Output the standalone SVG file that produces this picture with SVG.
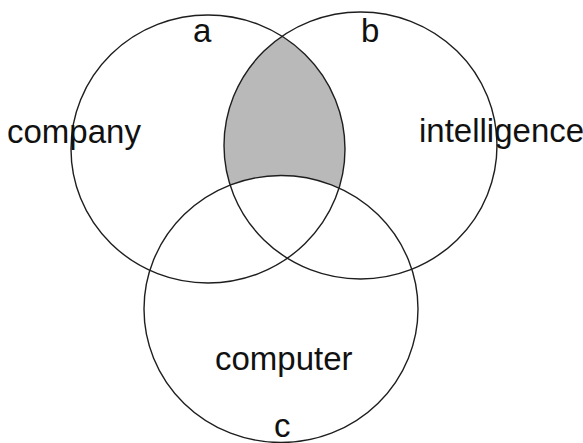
<svg xmlns="http://www.w3.org/2000/svg" width="583" height="443" viewBox="0 0 583 443">
  <style>
    .ring { fill: none; stroke: #1e1e1e; stroke-width: 1.4; }
    .lbl { font-family: "Liberation Sans", Arial, sans-serif; font-size: 33px; fill: #111; }
  </style>
  <defs>
    <clipPath id="clipA">
      <ellipse cx="208" cy="149" rx="137" ry="134"/>
    </clipPath>
  </defs>
  <rect x="0" y="0" width="583" height="443" fill="#ffffff"/>
  <g id="shade">
    <ellipse cx="360.5" cy="145.5" rx="136.5" ry="133.5" fill="#b9b9b9" clip-path="url(#clipA)"/>
    <ellipse cx="281" cy="309" rx="137" ry="133.5" fill="#ffffff"/>
  </g>
  <g id="set-a">
    <ellipse class="ring" cx="208" cy="149" rx="137" ry="134"/>
    <text class="lbl" x="193" y="42">a</text>
    <text class="lbl" x="7" y="143">company</text>
  </g>
  <g id="set-b">
    <ellipse class="ring" cx="360.5" cy="145.5" rx="136.5" ry="133.5"/>
    <text class="lbl" x="361" y="42">b</text>
    <text class="lbl" x="419" y="142">intelligence</text>
  </g>
  <g id="set-c">
    <ellipse class="ring" cx="281" cy="309" rx="137" ry="133.5"/>
    <text class="lbl" x="215" y="370">computer</text>
    <text class="lbl" x="274" y="437">c</text>
  </g>
</svg>
